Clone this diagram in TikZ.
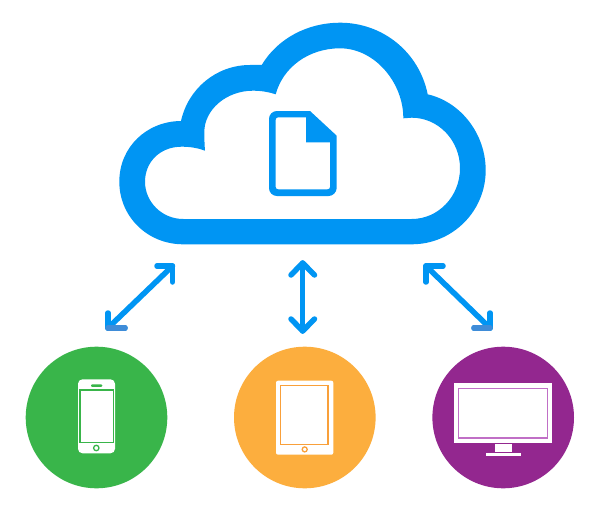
\documentclass[tikz,border=0pt]{standalone}
\definecolor{cloudblue}{HTML}{0095F3}
\definecolor{barblue}{HTML}{3F8CD8}
\definecolor{phonegreen}{HTML}{39B54A}
\definecolor{tabletorange}{HTML}{FCAE3E}
\definecolor{framerange}{HTML}{F9A03A}
\definecolor{screenpurple}{HTML}{93278F}
\definecolor{framelilac}{HTML}{C06FC6}
\tikzset{
  disc/.style={circle,minimum size=141.6pt,inner sep=0pt,outer sep=0pt},
  linkarrow/.style={draw=cloudblue,line width=5.5pt,line cap=round,line join=round},
  darkbar/.style={draw=barblue,line width=5.5pt,line cap=round},
  whitepart/.style={fill=white,draw=none},
}
\begin{document}
\begin{tikzpicture}[x=1pt,y=-1pt]
\useasboundingbox[fill=white] (0,0) rectangle (600,511);
% cloud
\fill[cloudblue,even odd rule]
  (183.3,244.3) -- (411.7,244.3)
  .. controls (452.6,244.3) and (485.7,211.2) .. (485.7,170.3)
  .. controls (485.7,134) and (461,102) .. (427.7,94.3)
  .. controls (419.2,52.3) and (382.9,22.7) .. (340,22.7)
  .. controls (308.3,22.7) and (278,37.8) .. (261.7,65)
  -- (250,65)
  .. controls (216,65) and (188,89) .. (181,121)
  .. controls (146.5,121.3) and (119.3,147.2) .. (119.3,181.7)
  .. controls (119.3,216.2) and (147,244.3) .. (183.3,244.3) -- cycle
  (183.3,219) -- (411.7,219)
  .. controls (438.4,219) and (460,196.3) .. (460,168.3)
  .. controls (460,140) and (438,117.7) .. (411.7,117.7)
  -- (403.3,118.3)
  .. controls (403.5,83) and (375,48.3) .. (340,48.3)
  .. controls (309,48.3) and (283,67) .. (275.7,94.3)
  .. controls (269,92) and (261,90.7) .. (253,90.7)
  .. controls (226,90.7) and (204.3,110) .. (204.3,132)
  .. controls (204.3,138) and (204.5,145) .. (205,150.7)
  .. controls (198,148) and (190,146.7) .. (181.7,146.7)
  .. controls (160,146.7) and (145,162) .. (145,181.7)
  .. controls (145,202) and (162,219) .. (183.3,219) -- cycle;
% document icon
\fill[cloudblue,even odd rule,rounded corners=0pt]
  (277,111) -- (310,111) -- (336.7,135.7) -- (336.7,188)
  .. controls (336.7,192.5) and (332.5,196) .. (328.7,196)
  -- (277,196)
  .. controls (272.5,196) and (269,192.5) .. (269,188)
  -- (269,119)
  .. controls (269,114.5) and (272.5,111) .. (277,111) -- cycle
  (278.2,117.3) -- (306,117.3) -- (306,142.3) -- (330,142.3) -- (330,187)
  .. controls (330,188.5) and (329,189.3) .. (327.5,189.3)
  -- (278.2,189.3)
  .. controls (276.7,189.3) and (275.7,188.5) .. (275.7,187)
  -- (275.7,119.8)
  .. controls (275.7,118.3) and (276.7,117.3) .. (278.2,117.3) -- cycle;
% device discs
\node[disc,fill=phonegreen] (phone) at (96.5,417.5) {};
\node[disc,fill=tabletorange] (tablet) at (304.8,417.5) {};
\node[disc,fill=screenpurple] (monitor) at (503.2,417.5) {};
% phone
\fill[whitepart,rounded corners=4.5pt] (78,379.3) rectangle (115,453.3);
\draw[phonegreen,line width=1.4pt] (79.8,389.9) rectangle (113.2,442.4);
\fill[phonegreen,rounded corners=1pt] (91,384.3) rectangle (102.3,386.8);
\draw[phonegreen,line width=1.3pt] (96.3,448) circle (2.7pt);
% tablet
\fill[whitepart,rounded corners=2pt] (276,380.7) rectangle (333.3,454.7);
\draw[framerange,line width=1.5pt] (280.6,385.6) rectangle (327.8,444.6);
\draw[framerange,line width=1.3pt] (304.7,449.4) circle (2.5pt);
% monitor
\fill[whitepart] (454,383.3) rectangle (552,442.7);
\draw[framelilac,line width=1.5pt] (458.6,388.3) rectangle (547.6,438.1);
\fill[whitepart] (494.7,443.6) rectangle (512,451.7);
\fill[whitepart] (485.7,453) rectangle (521.3,456);
% arrow ends and head arms
\coordinate (upA) at (172.5,266);
\coordinate (upAa) at (157,266);
\coordinate (upAb) at (172.5,282);
\coordinate (downA) at (108,328);
\coordinate (downAa) at (108,313);
\coordinate (downAb) at (125,328);
\coordinate (upB) at (302.7,263);
\coordinate (upBa) at (291,275);
\coordinate (upBb) at (314.5,275);
\coordinate (downB) at (302.7,331);
\coordinate (downBa) at (291,319);
\coordinate (downBb) at (314.5,319);
\coordinate (upC) at (426,266);
\coordinate (upCa) at (443,266);
\coordinate (upCb) at (426,282);
\coordinate (downC) at (490,328);
\coordinate (downCa) at (474,328);
\coordinate (downCb) at (490,313);
% arrows
\draw[linkarrow] (downA) -- (upA);
\draw[linkarrow] (upAa) -- (upA) -- (upAb);
\draw[linkarrow] (downAa) -- (downA) -- (downAb);
\draw[linkarrow] (downB) -- (upB);
\draw[linkarrow] (upBa) -- (upB) -- (upBb);
\draw[linkarrow] (downBa) -- (downB) -- (downBb);
\draw[linkarrow] (upC) -- (downC);
\draw[linkarrow] (upCa) -- (upC) -- (upCb);
\draw[linkarrow] (downCa) -- (downC) -- (downCb);
\draw[darkbar] (downA) -- (downAb);
\draw[darkbar] (downCa) -- (downC);
\end{tikzpicture}
\end{document}
